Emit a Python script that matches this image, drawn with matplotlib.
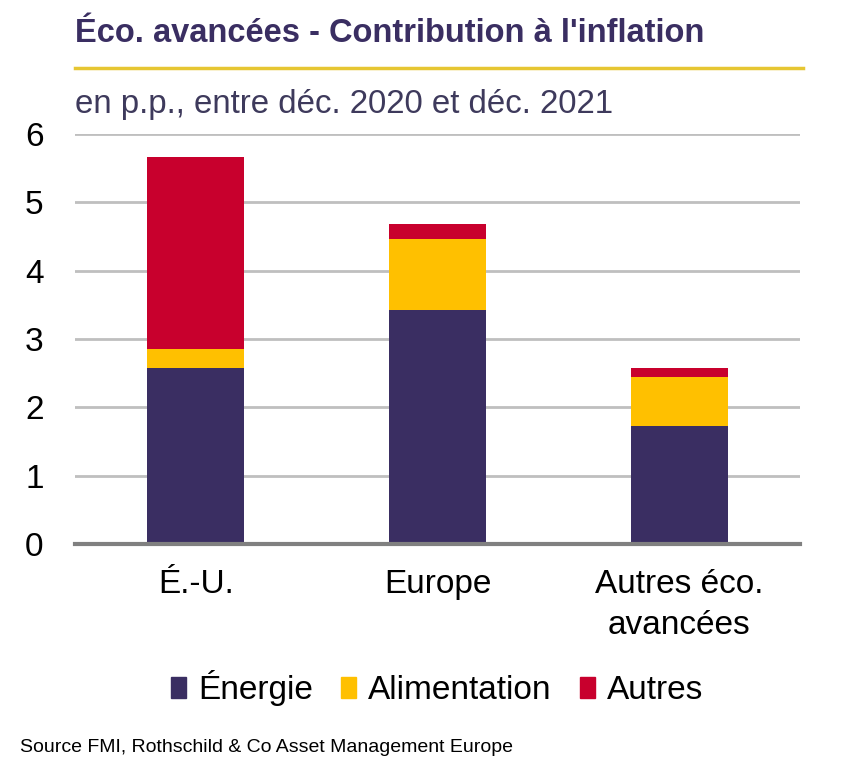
import numpy as np
import matplotlib
matplotlib.use('Agg')
import matplotlib.pyplot as plt
from matplotlib.lines import Line2D

# Données (p.p., déc. 2020 -> déc. 2021)
pays = ['É.-U.', 'Europe', 'Autres éco.\navancées']
energie = [2.58, 3.43, 1.73]
alimentation = [0.28, 1.04, 0.71]
autres = [2.81, 0.22, 0.13]

series = ['Énergie', 'Alimentation', 'Autres']
couleurs = ['#3A2E62', '#FFC000', '#C8002D']

police = ['Liberation Sans', 'DejaVu Sans']
violet = '#3A2E62'

fig = plt.figure(figsize=(8.64, 7.74), dpi=100)
W, H = 864, 774
ax = fig.add_axes([75 / W, 1 - 544 / H, 725 / W, 410 / H])

x = np.arange(len(pays))
bas = np.zeros(len(pays))
for vals, nom, c in zip([energie, alimentation, autres], series, couleurs):
    ax.bar(x, vals, width=0.4, bottom=bas, color=c, label=nom, zorder=3)
    bas = bas + np.array(vals)

ax.set_xlim(-0.5, 2.5)
ax.set_ylim(0, 6)
ax.set_yticks(range(0, 7))
ax.yaxis.grid(True, color='#BFBFBF', linewidth=2, zorder=0)
ax.set_axisbelow(True)
for s in ['top', 'right', 'left']:
    ax.spines[s].set_visible(False)
ax.spines['bottom'].set_color('#808080')
ax.spines['bottom'].set_linewidth(3)
ax.spines['bottom'].set_zorder(4)
ax.tick_params(axis='both', length=0, labelsize=24)
ax.tick_params(axis='y', pad=36)
for t in ax.get_yticklabels():
    t.set_family(police)
    t.set_horizontalalignment('left')
ax.set_xticks(x)
ax.set_xticklabels(pays, family=police, fontsize=24, linespacing=1.4)
ax.tick_params(axis='x', pad=18)

# Titre et sous-titre
fig.text(75 / W, 1 - 33 / H, "Éco. avancées - Contribution à l'inflation",
         fontsize=23.5, fontweight='bold', color=violet, family=police, va='center')
fig.add_artist(Line2D([75 / W, 803 / W], [1 - 68 / H, 1 - 68 / H],
                      color='#E6C632', linewidth=2.5))
fig.text(75 / W, 1 - 105 / H, 'en p.p., entre déc. 2020 et déc. 2021',
         fontsize=23.8, color='#3E3A5C', family=police, va='center')

# Légende
poignees = [plt.Rectangle((0, 0), 1, 1, color=c) for c in couleurs]
leg = fig.legend(poignees, series, loc='center', bbox_to_anchor=(0.506, 1 - 688 / H),
                 ncol=3, frameon=False, handlelength=0.45, handleheight=0.6,
                 handletextpad=0.35, columnspacing=0.85,
                 prop={'family': police, 'size': 24})

fig.text(20 / W, 1 - 748 / H, 'Source FMI, Rothschild & Co Asset Management Europe',
         fontsize=14, color='black', family=police, va='center')

fig.savefig('out.png', dpi=100, facecolor='white')
